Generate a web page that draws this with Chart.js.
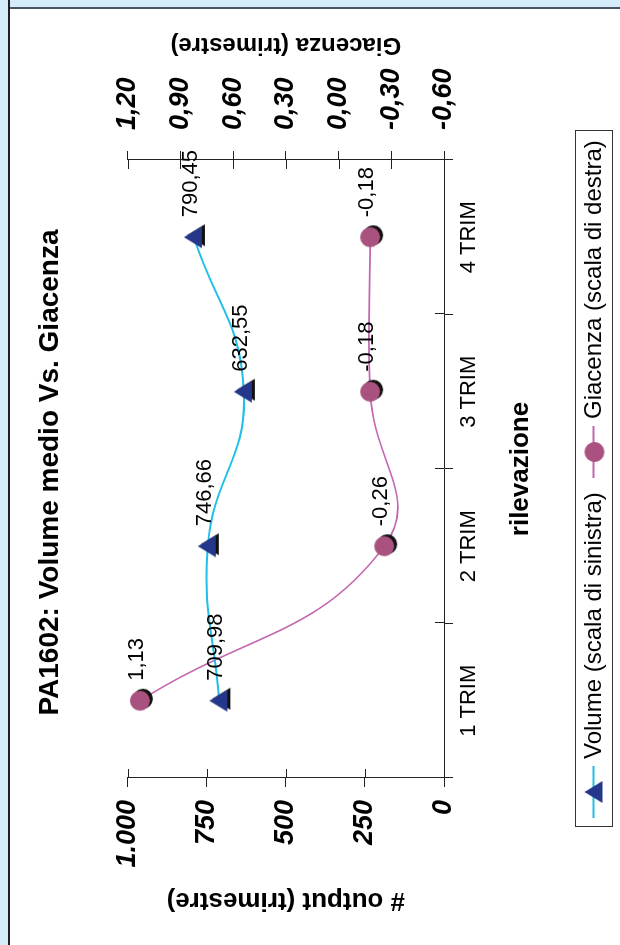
<!DOCTYPE html>
<html lang="it">
<head>
<meta charset="UTF-8">
<title>PA1602: Volume medio Vs. Giacenza</title>
<script src="https://cdn.jsdelivr.net/npm/chart.js"></script>
<style>
  html, body { margin: 0; padding: 0; overflow: hidden; }
  body { width: 620px; height: 945px; background: #fff; position: relative; }
  /* light blue margin and dark frame along the top and left edges */
  #stripTop { position: absolute; left: 0; top: 0; width: 620px; height: 7px; background: #d4ecf9; border-bottom: 2px solid #4a545e; }
  #stripLeft { position: absolute; left: 0; top: 0; width: 8px; height: 945px; background: #d4ecf9; border-right: 2px solid #1e1e1e; }
  /* the chart is laid out landscape and turned a quarter to the left */
  #wrap { position: absolute; left: 0; top: 0; width: 945px; height: 620px;
          transform-origin: 0 0; transform: translate(0, 945px) rotate(-90deg); }
</style>
</head>
<body>
<div id="stripTop"></div>
<div id="stripLeft"></div>
<div id="wrap"><canvas id="myChart" width="945" height="620"></canvas></div>

<script>
  const categories = ['1 TRIM', '2 TRIM', '3 TRIM', '4 TRIM'];
  const volume = [709.98, 746.66, 632.55, 790.45];
  const giacenza = [1.13, -0.26, -0.18, -0.18];
  const volumeTickLabels = ['0', '250', '500', '750', '1.000'];
  const giacenzaTickLabels = ['-0,60', '-0,30', '0,00', '0,30', '0,60', '0,90', '1,20'];

  const FONT = "'Liberation Sans', Arial, sans-serif";
  Chart.defaults.font.family = FONT;
  Chart.defaults.color = '#000';

  const navy = '#24378a';
  const cyan = '#1fbfe9';
  const mauve = '#a9527f';
  const pink = '#c466b0';

  // markers, optionally with the small black drop shadow
  const makeTriangle = (shadow) => {
    const c = document.createElement('canvas');
    c.width = 30; c.height = 30;
    const g = c.getContext('2d');
    const tri = (dx, dy, col) => {
      g.beginPath();
      g.moveTo(15 + dx, 5 + dy);
      g.lineTo(26 + dx, 23 + dy);
      g.lineTo(4 + dx, 23 + dy);
      g.closePath();
      g.fillStyle = col;
      g.fill();
    };
    if (shadow) tri(2, 3, '#111');
    tri(0, 0, navy);
    return c;
  };
  const makeCircle = (shadow) => {
    const c = document.createElement('canvas');
    c.width = 30; c.height = 30;
    const g = c.getContext('2d');
    if (shadow) { g.beginPath(); g.arc(17, 18, 10, 0, Math.PI * 2); g.fillStyle = '#111'; g.fill(); }
    g.beginPath(); g.arc(15, 15, 10, 0, Math.PI * 2); g.fillStyle = mauve; g.fill();
    return c;
  };
  const triImg = makeTriangle(true);
  const dotImg = makeCircle(true);

  // ticks that cross the axis line (Chart.js only draws the outer half)
  const innerTicks = {
    id: 'innerTicks',
    afterDraw(chart) {
      const { ctx, chartArea: a, scales } = chart;
      const len = 9;
      ctx.save();
      ctx.strokeStyle = '#222';
      ctx.lineWidth = 1;
      ctx.beginPath();
      for (let i = 0; i <= categories.length; i++) {
        const x = Math.round(a.left + i * (a.right - a.left) / categories.length) + 0.5;
        ctx.moveTo(x, a.bottom); ctx.lineTo(x, a.bottom - len);
      }
      scales.y.ticks.forEach(t => {
        const y = Math.round(scales.y.getPixelForValue(t.value)) + 0.5;
        ctx.moveTo(a.left, y); ctx.lineTo(a.left + len, y);
      });
      scales.y1.ticks.forEach(t => {
        const y = Math.round(scales.y1.getPixelForValue(t.value)) + 0.5;
        ctx.moveTo(a.right, y); ctx.lineTo(a.right - len, y);
      });
      ctx.stroke();

      // right axis title reads bottom to top, like the left one
      ctx.font = 'bold 24px ' + FONT;
      ctx.fillStyle = '#000';
      ctx.textAlign = 'center';
      ctx.textBaseline = 'middle';
      ctx.translate(900, (a.top + a.bottom) / 2);
      ctx.rotate(-Math.PI / 2);
      ctx.fillText('Giacenza (trimestre)', 0, 0);
      ctx.restore();
    }
  };

  // value labels to the right of each marker
  const valueLabels = {
    id: 'valueLabels',
    afterDatasetsDraw(chart) {
      const { ctx } = chart;
      ctx.save();
      ctx.font = '22px ' + FONT;
      ctx.fillStyle = '#000';
      ctx.textAlign = 'left';
      ctx.textBaseline = 'middle';
      chart.data.datasets.forEach((ds, di) => {
        chart.getDatasetMeta(di).data.forEach((pt, i) => {
          const txt = ds.data[i].toFixed(2).replace('.', ',');
          ctx.fillText(txt, pt.x + 20, pt.y - 3);
        });
      });
      ctx.restore();
    }
  };

  // boxed legend under the chart
  const legTri = makeTriangle(false);
  const legDot = makeCircle(false);
  const boxLegend = {
    id: 'boxLegend',
    afterDraw(chart) {
      const { ctx } = chart;
      const top = 575, h = 37, left = 118, right = 814;
      const midY = top + h / 2;
      ctx.save();
      ctx.fillStyle = '#fff';
      ctx.fillRect(left, top, right - left, h);
      ctx.strokeStyle = '#333';
      ctx.lineWidth = 1;
      ctx.strokeRect(left + 0.5, top + 0.5, right - left, h);

      const items = [
        { text: 'Volume (scala di sinistra)', line: cyan, img: legTri, x: 127 },
        { text: 'Giacenza (scala di destra)', line: pink, img: legDot, x: 467 }
      ];
      ctx.font = '24px ' + FONT;
      ctx.textBaseline = 'middle';
      ctx.fillStyle = '#000';
      items.forEach(it => {
        ctx.strokeStyle = it.line;
        ctx.lineWidth = 2;
        ctx.beginPath();
        ctx.moveTo(it.x, midY); ctx.lineTo(it.x + 52, midY);
        ctx.stroke();
        ctx.drawImage(it.img, it.x + 26 - 15, midY - 14);
        ctx.fillText(it.text, it.x + 59, midY + 1);
      });
      ctx.restore();
    }
  };

  const config = {
    type: 'line',
    data: {
      labels: categories,
      datasets: [{
        label: 'Volume (scala di sinistra)',
        data: volume,
        yAxisID: 'y',
        borderColor: cyan,
        borderWidth: 2,
        tension: 0.45,
        pointStyle: triImg,
        pointRadius: 10
      }, {
        label: 'Giacenza (scala di destra)',
        data: giacenza,
        yAxisID: 'y1',
        borderColor: pink,
        borderWidth: 1.6,
        tension: 0.45,
        pointStyle: dotImg,
        pointRadius: 10
      }]
    },
    options: {
      responsive: false,
      animation: false,
      devicePixelRatio: 1,
      layout: { padding: 0 },
      plugins: {
        legend: { display: false },
        tooltip: { enabled: false },
        title: {
          display: true,
          text: 'PA1602: Volume medio Vs. Giacenza',
          font: { size: 28, weight: 'bold' },
          color: '#000',
          padding: { top: 33, bottom: 61 }
        }
      },
      scales: {
        x: {
          offset: true,
          grid: { offset: true, drawOnChartArea: false, drawTicks: true, tickLength: 9, color: '#222' },
          border: { display: true, color: '#222' },
          ticks: { font: { size: 22 }, color: '#000', padding: 3, maxRotation: 0 },
          title: { display: true, text: 'rilevazione', font: { size: 26, weight: 'bold' }, color: '#000', padding: { top: 0, bottom: 84 } },
          afterFit: s => { s.height = 176; }
        },
        y: {
          position: 'left',
          min: 0, max: 1000,
          ticks: { stepSize: 250, font: { size: 27, weight: 'bold', style: 'italic' }, color: '#000', padding: 13,
                   callback: (v, i) => volumeTickLabels[i] },
          grid: { drawOnChartArea: false, drawTicks: true, tickLength: 9, color: '#222' },
          border: { display: true, color: '#222' },
          title: { display: true, text: '# output (trimestre)', font: { size: 26, weight: 'bold' }, color: '#000', padding: { top: 29, bottom: 0 } },
          afterFit: s => { s.width = 167; }
        },
        y1: {
          position: 'right',
          min: -0.6, max: 1.2,
          ticks: { stepSize: 0.3, font: { size: 27, weight: 'bold', style: 'italic' }, color: '#000', padding: 21,
                   callback: (v, i) => giacenzaTickLabels[i] },
          grid: { drawOnChartArea: false, drawTicks: true, tickLength: 9, color: '#222' },
          border: { display: true, color: '#222' },
          afterFit: s => { s.width = 160; }
        }
      }
    },
    plugins: [innerTicks, valueLabels, boxLegend]
  };

  const myChart = new Chart(document.getElementById('myChart'), config);
</script>
</body>
</html>
